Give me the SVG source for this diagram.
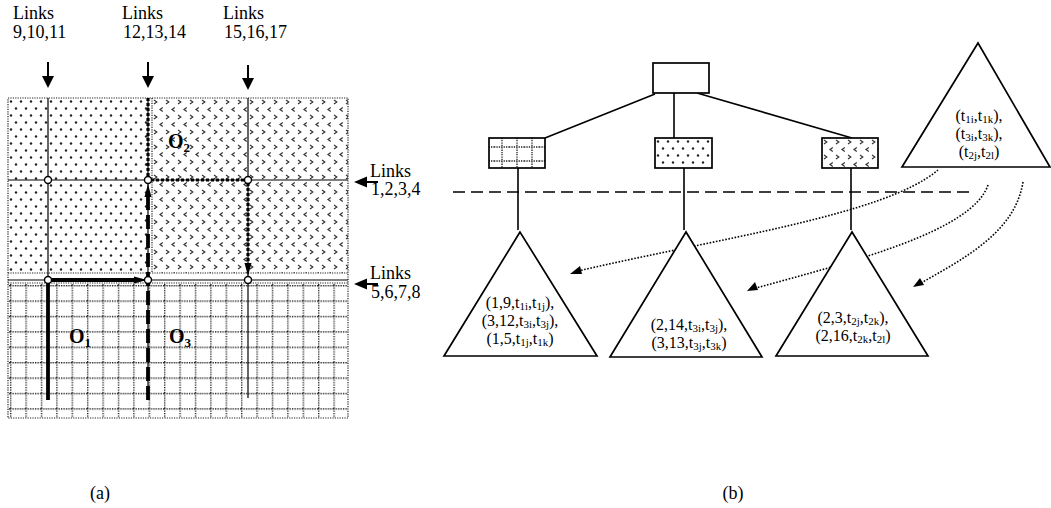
<svg xmlns="http://www.w3.org/2000/svg" width="1051" height="508" viewBox="0 0 1051 508">
<style>
text{font-family:"Liberation Serif","Times New Roman",serif;fill:#000}
.lbl{font-size:18px}
.tri{font-size:16px}
.sub{font-size:11px}
.thin{stroke:#000;stroke-width:1.2;fill:none}
.edge{stroke:#000;stroke-width:1.6;fill:none}
.dotb{stroke:#222;stroke-width:1.2;stroke-dasharray:1.2 1.2;fill:none}
.node{fill:#fff;stroke:#000;stroke-width:1.7}
.tnode{fill:#fff;stroke:#000;stroke-width:1.7}
.circ{fill:#fff;stroke:#000;stroke-width:1.4}
.cur{stroke:#000;stroke-width:1.6;stroke-dasharray:1.6 1.6;fill:none}
.bold{font-weight:bold;font-size:20px}
</style>
<defs>
<pattern id="pdots" patternUnits="userSpaceOnUse" width="10" height="14" x="8" y="98">
<circle cx="3" cy="3.5" r="1.2" fill="#222"/>
<circle cx="8" cy="10.5" r="1.2" fill="#222"/>
</pattern>
<pattern id="pchev" patternUnits="userSpaceOnUse" width="12" height="15" x="152" y="98">
<path d="M2,2 L4.8,4 L2,6" stroke="#333" stroke-width="1.2" fill="none"/>
<path d="M10.8,9.5 L8,11.5 L10.8,13.5" stroke="#333" stroke-width="1.2" fill="none"/>
</pattern>
<pattern id="pgrid" patternUnits="userSpaceOnUse" width="15.4" height="15.4" x="10" y="285">
<path d="M0.7,0 V15.4 M0,0.7 H15.4" stroke="#222" stroke-width="1.4" stroke-dasharray="1.3 1.1" fill="none"/>
</pattern>
<pattern id="pgrid2" patternUnits="userSpaceOnUse" width="15" height="14" x="494" y="140">
<path d="M8,0 V14 M0,7 H15" stroke="#222" stroke-width="1.3" stroke-dasharray="1.3 1.1" fill="none"/>
</pattern>
<pattern id="pdots2" patternUnits="userSpaceOnUse" width="10" height="14" x="655" y="138">
<circle cx="3" cy="3.5" r="1.2" fill="#222"/>
<circle cx="8" cy="10.5" r="1.2" fill="#222"/>
</pattern>
<pattern id="pchev2" patternUnits="userSpaceOnUse" width="12" height="15" x="822" y="138">
<path d="M2,2 L4.8,4 L2,6" stroke="#333" stroke-width="1.2" fill="none"/>
<path d="M10.8,9.5 L8,11.5 L10.8,13.5" stroke="#333" stroke-width="1.2" fill="none"/>
</pattern>
</defs>
<rect width="1051" height="508" fill="#fff"/>

<!-- (a) grid -->
<g id="grid">
<rect x="8" y="98" width="140" height="175" fill="url(#pdots)"/>
<rect x="152" y="98" width="196" height="175" fill="url(#pchev)"/>
<rect x="8" y="283" width="340" height="135" fill="url(#pgrid)"/>
<rect x="8" y="98" width="340" height="320" class="dotb"/>
<path class="dotb" d="M8,273 H348 M8,283 H348 M152,98 V273"/>
<path class="thin" d="M48,98 V398 M148,98 V398 M248,98 V398 M8,180 H348 M8,280 H348"/>
</g>

<g id="paths">
<path d="M48,400 V280 H136" stroke="#000" stroke-width="3.8" fill="none"/>
<polygon points="147,280 134,276.5 134,283.5" fill="#000"/>
<path d="M148,400 V196" stroke="#000" stroke-width="3.8" stroke-dasharray="14 5" fill="none"/>
<polygon points="148,184 144.5,197 151.5,197" fill="#000"/>
<path d="M148,98 V180 H248 V264" stroke="#000" stroke-width="3.2" stroke-dasharray="3 2" fill="none"/>
<polygon points="248,276 244.5,263 251.5,263" fill="#000"/>
</g>

<g id="junctions">
<circle class="circ" cx="48" cy="180" r="3.5"/>
<circle class="circ" cx="148" cy="180" r="3.5"/>
<circle class="circ" cx="248" cy="180" r="3.5"/>
<circle class="circ" cx="48" cy="280" r="3.5"/>
<circle class="circ" cx="148" cy="280" r="3.5"/>
<circle class="circ" cx="248" cy="280" r="3.5"/>
</g>

<g id="objects-labels">
<text class="bold" x="168" y="148">O<tspan font-size="13" dy="4">2</tspan></text>
<text class="bold" x="69" y="343">O<tspan font-size="13" dy="4">1</tspan></text>
<text class="bold" x="169" y="343">O<tspan font-size="13" dy="4">3</tspan></text>
</g>

<g id="link-arrows">
<path d="M48,62 V78 M148,62 V78 M248,65 V80" stroke="#000" stroke-width="2"/>
<polygon points="42,76 54,76 48,88" fill="#000"/>
<polygon points="142,76 154,76 148,88" fill="#000"/>
<polygon points="242,78 254,78 248,90" fill="#000"/>
<path d="M366,182 H378 M366,284 H378" stroke="#000" stroke-width="2"/>
<polygon points="354,182 367,176.5 367,187.5" fill="#000"/>
<polygon points="354,284 367,278.5 367,289.5" fill="#000"/>
</g>

<g id="link-labels">
<text class="lbl" x="13" y="19">Links</text>
<text class="lbl" x="13" y="38">9,10,11</text>
<text class="lbl" x="122" y="19">Links</text>
<text class="lbl" x="123" y="38">12,13,14</text>
<text class="lbl" x="223" y="19">Links</text>
<text class="lbl" x="224" y="38">15,16,17</text>
<text class="lbl" x="370" y="177">Links</text>
<text class="lbl" x="371" y="195">1,2,3,4</text>
<text class="lbl" x="370" y="279">Links</text>
<text class="lbl" x="371" y="298">5,6,7,8</text>
</g>

<!-- (b) tree -->
<g id="connectors">
<path class="edge" d="M655,94 L545,138 M674,90 V138 M697,93 L852,138"/>
<path class="edge" d="M518,168 V230 M684,168 V230 M851,168 V230"/>
<path d="M453,192 H975" stroke="#000" stroke-width="1.6" stroke-dasharray="12 6" fill="none"/>
<path class="cur" d="M938,170 C885,215 720,238 578,271"/>
<polygon points="570,274 580,266 582,274" fill="#000"/>
<path class="cur" d="M988,185 C972,232 850,262 756,288"/>
<polygon points="747,291 755,282 758,290" fill="#000"/>
<path class="cur" d="M1023,182 C1015,232 965,258 921,283"/>
<polygon points="913,287 920,278 924,285" fill="#000"/>
</g>

<g id="root"><rect class="node" x="653" y="63" width="56" height="30"/></g>
<g id="child-left">
<rect x="489" y="138" width="56" height="30" fill="#fff"/>
<rect x="489" y="138" width="56" height="30" fill="url(#pgrid2)"/>
<rect x="489" y="138" width="56" height="30" fill="none" stroke="#000" stroke-width="1.7"/>
</g>
<g id="child-mid">
<rect x="655" y="138" width="57" height="30" fill="#fff"/>
<rect x="655" y="138" width="57" height="30" fill="url(#pdots2)"/>
<rect x="655" y="138" width="57" height="30" fill="none" stroke="#000" stroke-width="1.7"/>
</g>
<g id="child-right">
<rect x="822" y="138" width="56" height="30" fill="#fff"/>
<rect x="822" y="138" width="56" height="30" fill="url(#pchev2)"/>
<rect x="822" y="138" width="56" height="30" fill="none" stroke="#000" stroke-width="1.7"/>
</g>

<g id="tri-left">
<polygon class="tnode" points="520,232 444,356 597,356"/>
<text class="tri" text-anchor="middle" x="520" y="308">(1,9,t<tspan class="sub" dy="2">1i</tspan><tspan dy="-2">,t</tspan><tspan class="sub" dy="2">1j</tspan><tspan dy="-2">),</tspan></text>
<text class="tri" text-anchor="middle" x="520" y="326">(3,12,t<tspan class="sub" dy="2">3i</tspan><tspan dy="-2">,t</tspan><tspan class="sub" dy="2">3j</tspan><tspan dy="-2">),</tspan></text>
<text class="tri" text-anchor="middle" x="520" y="344">(1,5,t<tspan class="sub" dy="2">1j</tspan><tspan dy="-2">,t</tspan><tspan class="sub" dy="2">1k</tspan><tspan dy="-2">)</tspan></text>
</g>
<g id="tri-mid">
<polygon class="tnode" points="686,232 610,357 762,357"/>
<text class="tri" text-anchor="middle" x="689" y="330">(2,14,t<tspan class="sub" dy="2">3i</tspan><tspan dy="-2">,t</tspan><tspan class="sub" dy="2">3j</tspan><tspan dy="-2">),</tspan></text>
<text class="tri" text-anchor="middle" x="689" y="348">(3,13,t<tspan class="sub" dy="2">3j</tspan><tspan dy="-2">,t</tspan><tspan class="sub" dy="2">3k</tspan><tspan dy="-2">)</tspan></text>
</g>
<g id="tri-right">
<polygon class="tnode" points="852,232 776,356 928,356"/>
<text class="tri" text-anchor="middle" x="853" y="323">(2,3,t<tspan class="sub" dy="2">2j</tspan><tspan dy="-2">,t</tspan><tspan class="sub" dy="2">2k</tspan><tspan dy="-2">),</tspan></text>
<text class="tri" text-anchor="middle" x="853" y="341">(2,16,t<tspan class="sub" dy="2">2k</tspan><tspan dy="-2">,t</tspan><tspan class="sub" dy="2">2l</tspan><tspan dy="-2">)</tspan></text>
</g>
<g id="tri-top">
<polygon class="tnode" points="978,43 902,167 1050,167"/>
<text class="tri" text-anchor="middle" x="979" y="121">(t<tspan class="sub" dy="2">1i</tspan><tspan dy="-2">,t</tspan><tspan class="sub" dy="2">1k</tspan><tspan dy="-2">),</tspan></text>
<text class="tri" text-anchor="middle" x="979" y="139">(t<tspan class="sub" dy="2">3i</tspan><tspan dy="-2">,t</tspan><tspan class="sub" dy="2">3k</tspan><tspan dy="-2">),</tspan></text>
<text class="tri" text-anchor="middle" x="979" y="157">(t<tspan class="sub" dy="2">2j</tspan><tspan dy="-2">,t</tspan><tspan class="sub" dy="2">2l</tspan><tspan dy="-2">)</tspan></text>
</g>

<g id="captions">
<text class="lbl" text-anchor="middle" x="100" y="499">(a)</text>
<text class="lbl" text-anchor="middle" x="733" y="499">(b)</text>
</g>
</svg>
